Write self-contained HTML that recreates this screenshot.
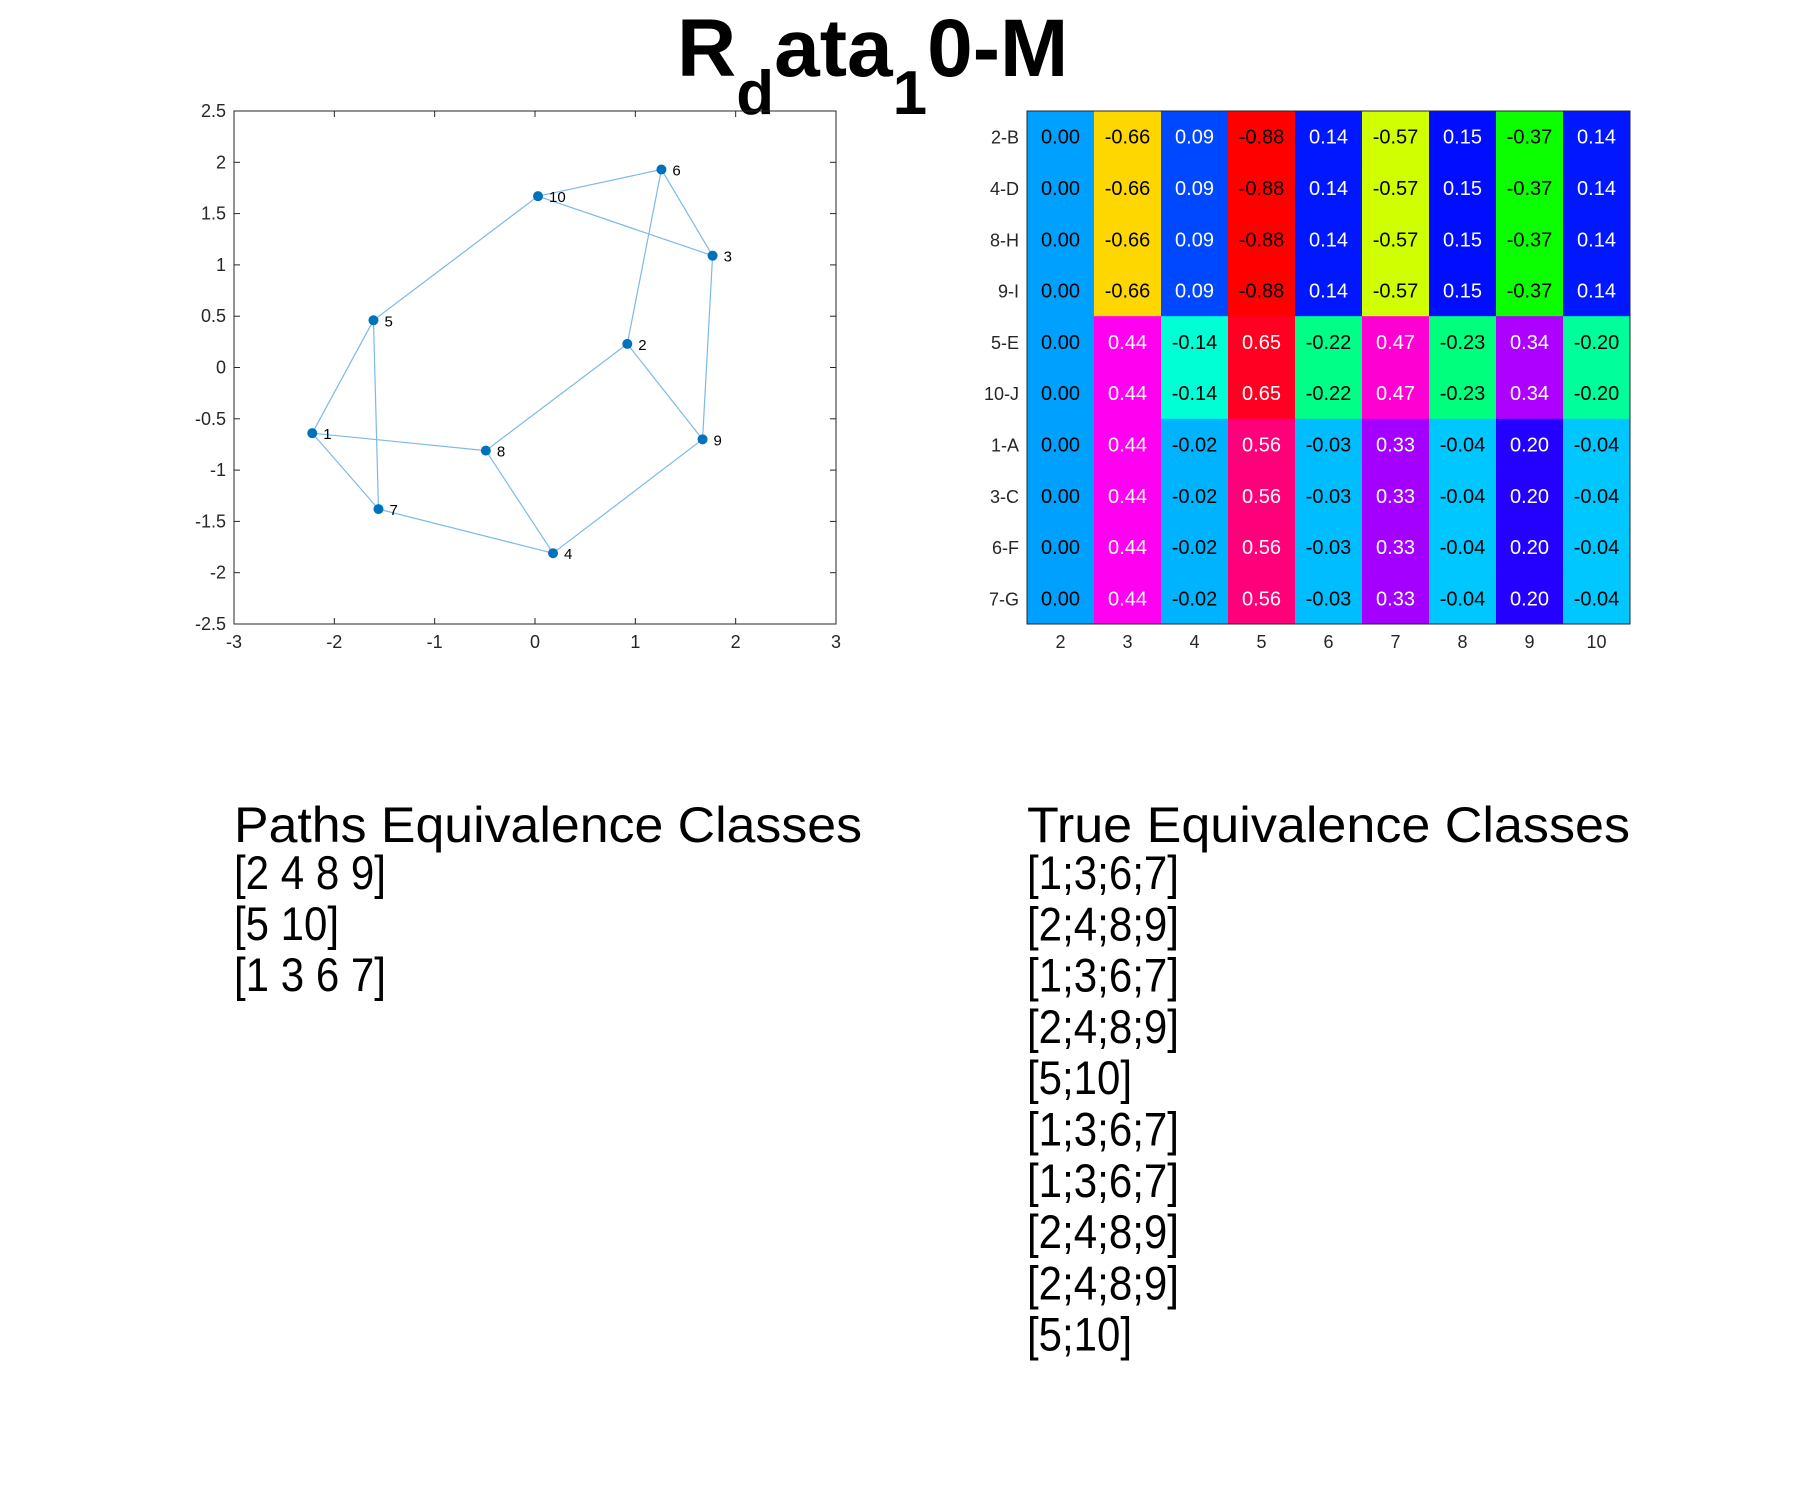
<!DOCTYPE html>
<html><head><meta charset="utf-8"><style>
body{margin:0;background:#fff}
svg{display:block;font-family:"Liberation Sans",sans-serif}
</style></head><body>
<svg id="root" width="1800" height="1500" viewBox="0 0 1800 1500">
<text x="677" y="76" font-size="82" font-weight="bold">R<tspan font-size="62" dy="38">d</tspan><tspan dy="-38">ata</tspan><tspan font-size="62" dy="38">1</tspan><tspan dy="-38">0-M</tspan></text>
<g id="scatter"></g>
<g id="heat"></g>
<g font-size="47">
<text x="234" y="842" font-size="50" textLength="628" lengthAdjust="spacingAndGlyphs">Paths Equivalence Classes</text>
<text x="234" y="889" textLength="152" lengthAdjust="spacingAndGlyphs">[2 4 8 9]</text>
<text x="234" y="940" textLength="105" lengthAdjust="spacingAndGlyphs">[5 10]</text>
<text x="234" y="991" textLength="152" lengthAdjust="spacingAndGlyphs">[1 3 6 7]</text>
</g>
<g font-size="47" id="trueg">
<text x="1027" y="842" font-size="50" textLength="603" lengthAdjust="spacingAndGlyphs">True Equivalence Classes</text>
</g>
</svg>
<script>
const nodeIds=[1,2,3,4,5,6,7,8,9,10];
const nodeX=[-2.22,0.92,1.77,0.18,-1.61,1.26,-1.56,-0.49,1.67,0.03];
const nodeY=[-0.64,0.23,1.09,-1.81,0.46,1.93,-1.38,-0.81,-0.70,1.67];
const edges=[[10,6],[10,3],[6,3],[6,2],[10,5],[5,1],[5,7],[1,7],[1,8],[8,2],[8,4],[7,4],[4,9],[2,9],[3,9]];
const xTicks=[-3,-2,-1,0,1,2,3];
const yTicks=[-2.5,-2,-1.5,-1,-0.5,0,0.5,1,1.5,2,2.5];
const rowLabels=["2-B","4-D","8-H","9-I","5-E","10-J","1-A","3-C","6-F","7-G"];
const colLabels=["2","3","4","5","6","7","8","9","10"];
const groupA=[0.00,-0.66,0.09,-0.88,0.14,-0.57,0.15,-0.37,0.14];
const groupB=[0.00,0.44,-0.14,0.65,-0.22,0.47,-0.23,0.34,-0.20];
const groupC=[0.00,0.44,-0.02,0.56,-0.03,0.33,-0.04,0.20,-0.04];
const heatValues=[groupA,groupA,groupA,groupA,groupB,groupB,groupC,groupC,groupC,groupC];
const trueClasses=["[1;3;6;7]","[2;4;8;9]","[1;3;6;7]","[2;4;8;9]","[5;10]","[1;3;6;7]","[1;3;6;7]","[2;4;8;9]","[2;4;8;9]","[5;10]"];

const NS="http://www.w3.org/2000/svg";
function mk(tag,attrs,parent){const e=document.createElementNS(NS,tag);for(const k in attrs)e.setAttribute(k,attrs[k]);parent.appendChild(e);return e;}

const sc=document.getElementById('scatter');
const L=234,R=836,T=111,B=624;
const sx=v=>L+(v+3)/6*(R-L), sy=v=>B-(v+2.5)/5*(B-T);
let box=mk('rect',{x:L,y:T,width:R-L,height:B-T,fill:'none',stroke:'#262626','stroke-width':1},sc);


xTicks.forEach(t=>{
  const x=sx(t);
  mk('line',{x1:x,x2:x,y1:B,y2:B-6,stroke:'#262626'},sc);
  mk('line',{x1:x,x2:x,y1:T,y2:T+6,stroke:'#262626'},sc);
  const tx=mk('text',{x:x,y:648,'font-size':18,'text-anchor':'middle',fill:'#262626'},sc);
  tx.textContent=t;
  
  
});
yTicks.forEach(t=>{
  const y=sy(t);
  mk('line',{x1:L,x2:L+6,y1:y,y2:y,stroke:'#262626'},sc);
  mk('line',{x1:R,x2:R-6,y1:y,y2:y,stroke:'#262626'},sc);
  const tx=mk('text',{x:226,y:y+6,'font-size':18,'text-anchor':'end',fill:'#262626'},sc);
  tx.textContent=t;
  
  
});
edges.forEach(e=>{
  const a=nodeIds.indexOf(e[0]),b=nodeIds.indexOf(e[1]);
  const ln=mk('line',{x1:sx(nodeX[a]),y1:sy(nodeY[a]),x2:sx(nodeX[b]),y2:sy(nodeY[b]),stroke:'#7db9e8','stroke-width':1.2},sc);
  
  
});
nodeIds.forEach((id,i)=>{
  const c=mk('circle',{cx:sx(nodeX[i]),cy:sy(nodeY[i]),r:5,fill:'#0072BD'},sc);
  
  
  const tx=mk('text',{x:sx(nodeX[i])+11,y:sy(nodeY[i])+6,'font-size':15,fill:'#000'},sc);
  tx.textContent=id;
  
  
});

const hm=document.getElementById('heat');
const HL=1027,HR=1630,HT=111,HB=624;
const cw=(HR-HL)/colLabels.length, ch=(HB-HT)/rowLabels.length;
const vmin=-0.88;
function hsv(h){h=((h%360)+360)%360;const f=c=>{const k=(c+h/60)%6;return Math.round(255*(1-Math.max(0,Math.min(k,4-k,1))));};return `rgb(${f(5)},${f(3)},${f(1)})`;}
heatValues.forEach((row,r)=>{
  row.forEach((v,c)=>{
    const rc=mk('rect',{x:HL+c*cw,y:HT+r*ch,width:cw+0.5,height:ch+0.5,fill:hsv((v-vmin)*230)},hm);
    
    
    const tx=mk('text',{x:HL+(c+0.5)*cw,y:HT+(r+0.5)*ch+7,'font-size':20,'text-anchor':'middle',fill:v<=0?'#000':'#fff'},hm);
    tx.textContent=v.toFixed(2);
    
    
  });
  const lb=mk('text',{x:1019,y:HT+(r+0.5)*ch+7,'font-size':18,'text-anchor':'end',fill:'#262626'},hm);
  lb.textContent=rowLabels[r];
  
  
});
colLabels.forEach((c,i)=>{
  const lb=mk('text',{x:HL+(i+0.5)*cw,y:648,'font-size':18,'text-anchor':'middle',fill:'#262626'},hm);
  lb.textContent=c;
  
  
});
const hb=mk('rect',{x:HL,y:HT,width:HR-HL,height:HB-HT,fill:'none',stroke:'#262626'},hm);



const tg=document.getElementById('trueg');
trueClasses.forEach((s,i)=>{
  const tx=mk('text',{x:1027,y:889+51.3*i,textLength:s.length>7?152:105,lengthAdjust:'spacingAndGlyphs'},tg);
  tx.textContent=s;
  
  
});
</script>
</body></html>
